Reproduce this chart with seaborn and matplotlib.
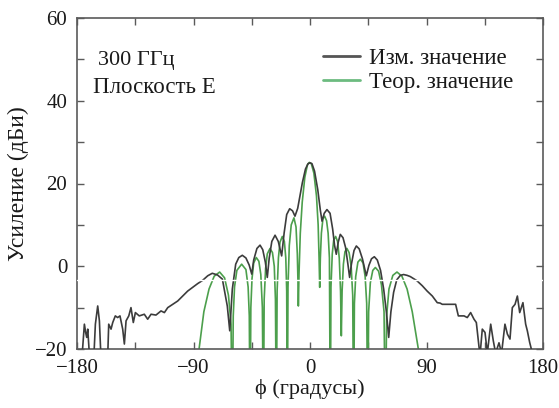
import matplotlib
matplotlib.use("Agg")
import matplotlib.pyplot as plt
import seaborn as sns
import pandas as pd
from matplotlib.ticker import MultipleLocator, FixedLocator, FuncFormatter

# ---- data ----
phi_meas = [-179, -176.5, -175.6, -174.3, -173.3, -172.5, -171.7, -170.5, -167, -166.3,
            -165.8, -164, -162.7, -161.5, -156.3, -155.5, -153.7, -152.4, -150.4, -148.6,
            -146.8, -144.7, -143.4, -142.1, -140, -138.3, -136.5, -134.9, -131.9, -128,
            -125.4, -122.8, -119, -115.1, -112.5, -109.9, -106.1, -102.2, -98.3, -94.5,
            -90.6, -86.8, -82.9, -79, -75.5, -71.5, -67.7, -63.9, -62, -60,
            -57.4, -55, -52.3, -49.5, -47, -45, -43.5, -41, -38.6, -36.5,
            -34.5, -33, -31.5, -29.5, -27, -24.5, -21.9, -20, -18, -15.7,
            -13.5, -11.6, -9.5, -5.9, -3.5, -1.5, 0, 1.5, 3.5, 6,
            8, 9.3, 11, 13.1, 15.5, 17.5, 19, 20.3, 21.8, 23.4,
            25.5, 27.5, 29.5, 30.6, 32, 34, 35.8, 38, 40.5, 43.5,
            45.5, 47.5, 49.7, 52, 54.5, 56.9, 59, 60.8, 62.5, 64.6,
            67, 69.8, 72.3, 75, 77.5, 80, 82.6, 86.7, 90.5, 94.5,
            98.3, 100.5, 102.2, 104.8, 112.5, 114.6, 119, 121.5, 124.1, 126.7,
            128.5, 130.6, 131.5, 133.1, 135.2, 137, 139.6, 141.6, 143.4, 146,
            148, 150.6, 152.5, 154.5, 156.3, 158.4, 160.2, 162, 164.5, 166.6,
            167.9, 169.7, 171.8, 175]
gain_meas = [-22, -22, -19.6, -14, -16, -17.2, -15.2, -21, -22, -17,
             -14, -9.6, -13.2, -22, -22, -14, -15.2, -13.6, -12, -12.4,
             -12, -15.2, -18.8, -13.2, -12, -10, -13.6, -11.2, -12, -11.6,
             -12.8, -11.6, -11.8, -10.8, -11.2, -10, -9.2, -8.4, -7.2, -6,
             -5.1, -4.2, -3.4, -2.3, -1.7, -2.1, -3.1, -9.6, -15.6, -5.5,
             0.5, 2.1, 2.65, 2.0, 0.3, -1.9, 1.5, 4.3, 5.1, 4,
             1, -2.7, 2, 6, 7.5, 6, 2.5, 8, 12.5, 13.9,
             13.4, 12.1, 14, 20.2, 23.5, 24.8, 25, 24.8, 23, 18.5,
             13.5, 10.9, 12.8, 13.7, 12.8, 9, 5, 2.9, 5.8, 7.7,
             6.9, 4.5, 0, -2.7, 0.5, 3.8, 4.9, 4.2, 1.8, -2.3,
             0.2, 1.8, 2.3, 1.5, -1, -5.5, -11, -17.2, -11, -6.3,
             -3.3, -2.2, -2, -2.2, -2.5, -3, -3.5, -4.7, -6, -7.2,
             -8.8, -8.9, -9.2, -9.2, -9.2, -12, -12, -12.4, -11.2, -12.8,
             -13.6, -19.6, -21, -15.2, -16, -21, -14, -18, -21, -18.5,
             -21, -14, -16.4, -17.6, -10, -9.2, -7.2, -11.2, -8.8, -14,
             -15.6, -18.4, -21, -21]

phi_theo = [-88, -85.7, -82, -78, -74, -69.8, -66, -63, -61, -60,
            -59.3, -58.3, -56.5, -52.8, -49.5, -47.8, -46.9, -46.3,
            -45.7, -44.8, -43.5, -41.5, -39.5, -38, -36.8, -36,
            -35.4, -34.3, -33, -30.9, -29, -27.6, -26.7, -26,
            -25.4, -24.4, -23.2, -21.4, -19.8, -18.7, -18, -17.5,
            -17, -16, -14.5, -12.4, -10.8, -9.8, -9.2, -9,
            -8.5, -7.5, -6, -4, -2, -0.5, 1, 3, 5, 6.3, 7, 7.5,
            8, 8.8, 10, 11.3, 12.8, 14, 15, 15.7,
            16.2, 17.2, 18.3, 19.8, 21.3, 22.6, 23.6, 24.2,
            24.8, 25.8, 27, 28.5, 30.2, 31.8, 33, 33.7,
            34.3, 35.3, 37, 38.9, 41, 42.6, 43.8, 44.6,
            45.3, 46.6, 48.5, 50.5, 53, 55.2, 57.2, 58.2,
            59.2, 61, 64, 67.2, 71, 75, 79, 83.7, 86]
gain_theo = [-25, -20, -11, -5.5, -2.4, -1.4, -2.8, -7, -14, -40,
             -12, -5, -1, 0.5, -0.8, -5, -12, -40,
             -10, -3, 0.8, 2.1, 1.2, -2, -10, -40,
             -8, -0.5, 3, 4.3, 3.3, 0, -8, -40,
             -6, 2, 5.8, 7.2, 6, 2, -6, -40,
             -5, 5, 10, 11.7, 9.5, 3, -5, -9.6,
             -2, 8, 15.5, 21.5, 24.5, 25.1, 24.8, 22.5, 17, 10, 2, -5.1,
             2, 8, 11.5, 12.1, 11, 8, 2, -40,
             -5, 3, 6.3, 7.2, 6, 2, -6, -16.8,
             -6, 0.5, 3.5, 4.3, 3.3, 0, -7, -40,
             -9, -2.5, 1, 1.7, 0.8, -2.5, -9, -40,
             -11, -4, -1, -0.3, -1.2, -4.5, -11, -40,
             -12, -5.5, -2.2, -1.4, -2.4, -5.5, -11, -20, -25]

labels = ["Изм. значение", "Теор. значение"]
x_ticks = [-180, -90, 0, 90, 180]
y_ticks = [-20, 0, 20, 40, 60]

# ---- figure ----
sns.set_style("ticks")
plt.rcParams['font.family'] = ['Liberation Serif', 'DejaVu Serif']
plt.rcParams['axes.unicode_minus'] = True

df_m = pd.DataFrame({"phi": phi_meas, "gain": gain_meas, "series": labels[0]})
df_t = pd.DataFrame({"phi": phi_theo, "gain": gain_theo, "series": labels[1]})

fig = plt.figure(figsize=(5.59, 4.08), dpi=100)
ax = fig.add_axes([77/559, 1-349/408, 466/559, 331/408])

sns.lineplot(data=df_m, x="phi", y="gain", ax=ax, color="#3c3c3c", lw=1.2,
             sort=False, estimator=None, label=labels[0], zorder=3)
sns.lineplot(data=df_t, x="phi", y="gain", ax=ax, color="#4c9f4c", lw=1.2,
             sort=False, estimator=None, label=labels[1], zorder=2)

ax.set_xlim(-180, 180)
ax.set_ylim(-20, 60)
ax.xaxis.set_major_locator(FixedLocator(x_ticks))
ax.xaxis.set_minor_locator(MultipleLocator(45))
ax.yaxis.set_major_locator(FixedLocator(y_ticks))
ax.yaxis.set_minor_locator(MultipleLocator(10))
fmt = FuncFormatter(lambda v, p: ("\u2212%d" % abs(v)) if v < 0 else "%d" % v)
ax.xaxis.set_major_formatter(fmt)
ax.yaxis.set_major_formatter(fmt)

for s in ax.spines.values():
    s.set_color("#5a5a5a")
    s.set_linewidth(1.2)
ax.tick_params(which="both", direction="in", top=True, right=True,
               color="#5a5a5a", width=1.0, labelsize=15, colors="#1a1a1a")
ax.tick_params(which="major", length=5, pad=7)
ax.tick_params(which="minor", length=5)
for t in ax.get_xticklabels() + ax.get_yticklabels():
    t.set_color("#1a1a1a")

ax.set_xlabel("ϕ (градусы)", fontsize=16, color="#1a1a1a", labelpad=1)
ax.set_ylabel("Усиление (дБи)", fontsize=17, color="#1a1a1a", labelpad=4)

ax.text(0.044, 0.873, "300 ГГц", transform=ax.transAxes, fontsize=16,
        va="center", ha="left", color="#1a1a1a")
ax.text(0.034, 0.789, "Плоскость Е", transform=ax.transAxes, fontsize=16.5,
        va="center", ha="left", color="#1a1a1a")

leg = ax.legend(loc="upper left", bbox_to_anchor=(0.528, 0.908), frameon=False,
                fontsize=16.5, handlelength=1.6, handletextpad=0.4,
                borderpad=0, borderaxespad=0, labelspacing=0.1)
leg_colors = ["#555555", "#6cbb80"]
for txt in leg.get_texts():
    txt.set_color("#1a1a1a")
for ln, c in zip(leg.get_lines(), leg_colors):
    ln.set_linewidth(2.0)
    ln.set_color(c)

# thin white scan line visible in the reference
ax.axhline(-3.4, color="white", lw=1.0, zorder=6)

fig.savefig("out.png", dpi=100)
